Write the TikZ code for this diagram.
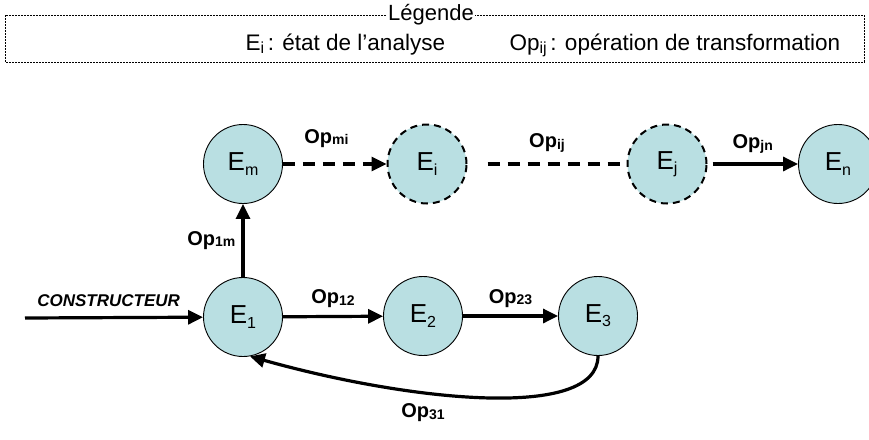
\documentclass[tikz,border=0pt]{standalone}
\usepackage{fontspec}
\setmainfont{Liberation Sans}
\usetikzlibrary{arrows.meta}
\definecolor{bleuetat}{RGB}{185,223,226}
\newcommand{\indice}[2][-0.3ex]{\raisebox{#1}{\fontsize{16}{16}\selectfont #2}}
\newcommand{\opind}[1]{\raisebox{-0.15ex}{\fontsize{14}{14}\selectfont\bfseries #1}}
\begin{document}
\begin{tikzpicture}[x=1pt,y=-1pt,
  etat/.style={circle, draw, line width=0.9pt, fill=bleuetat, minimum size=79pt, inner sep=0pt, font=\fontsize{26}{26}\selectfont},
  etatvirt/.style={etat, line width=2pt, dash pattern=on 7pt off 5pt},
  fleche/.style={line width=3.2pt, -{Triangle[length=15pt,width=14pt]}},
  lbl/.style={font=\fontsize{20}{20}\selectfont\bfseries, inner sep=1pt}]
\useasboundingbox (0,0) rectangle (869,439);
% legende
\draw[line width=0.6pt, dash pattern=on 2pt off 1pt] (5,15) rectangle (864,62);
\node[fill=white, inner sep=1pt, font=\fontsize{22}{22}\selectfont] (leg) at (431,15){Légende};
\node[font=\fontsize{22.5}{22.5}\selectfont, anchor=west] (legE) at (242,45){E\indice[-0.25ex]{i}\,: état de l’analyse};
\node[font=\fontsize{22.5}{22.5}\selectfont, anchor=west] (legOp) at (506,45){Op\indice[-0.25ex]{ij}\,: opération de transformation};
% etats
\node[etat] (em) at (243,164){E\indice{m}};
\node[etatvirt] (ei) at (427,164){E\indice{i}};
\node[etatvirt] (ej) at (667,164){E\indice{j}};
\node[etat] (en) at (838,164){E\indice{n}};
\node[etat] (e1) at (243,317){E\indice{1}};
\node[etat] (e2) at (423,316){E\indice{2}};
\node[etat] (e3) at (598,316){E\indice{3}};
\coordinate (cst) at (25,318);
% transitions
\draw[fleche] (cst) -- (e1) node[pos=0.47, above=6pt, font=\fontsize{17}{17}\selectfont\bfseries\itshape]{CONSTRUCTEUR};
\draw[fleche] (e1) -- (em) node[midway, left=5pt, lbl]{Op\opind{1m}};
\draw[fleche] (e1) -- (e2) node[midway, above=6pt, lbl]{Op\opind{12}};
\draw[fleche] (e2) -- (e3) node[midway, above=6pt, lbl]{Op\opind{23}};
\draw[fleche, dash pattern=on 12pt off 8pt] (em) -- (ei) node[pos=0.42, above=14pt, lbl]{Op\opind{mi}};
\draw[line width=3.2pt, dash pattern=on 12pt off 8pt, shorten <=20pt, shorten >=6pt] (ei) -- (ej) node[midway, above=9pt, lbl]{Op\opind{ij}};
\draw[fleche, shorten <=5pt] (ej) -- (en) node[midway, above=8pt, lbl]{Op\opind{jn}};
\draw[fleche] (e3.south) .. controls +(0,65) and +(160,45) .. (e1.-80);
\node[lbl] (op31) at (423,413){Op\opind{31}};
\end{tikzpicture}
\end{document}
